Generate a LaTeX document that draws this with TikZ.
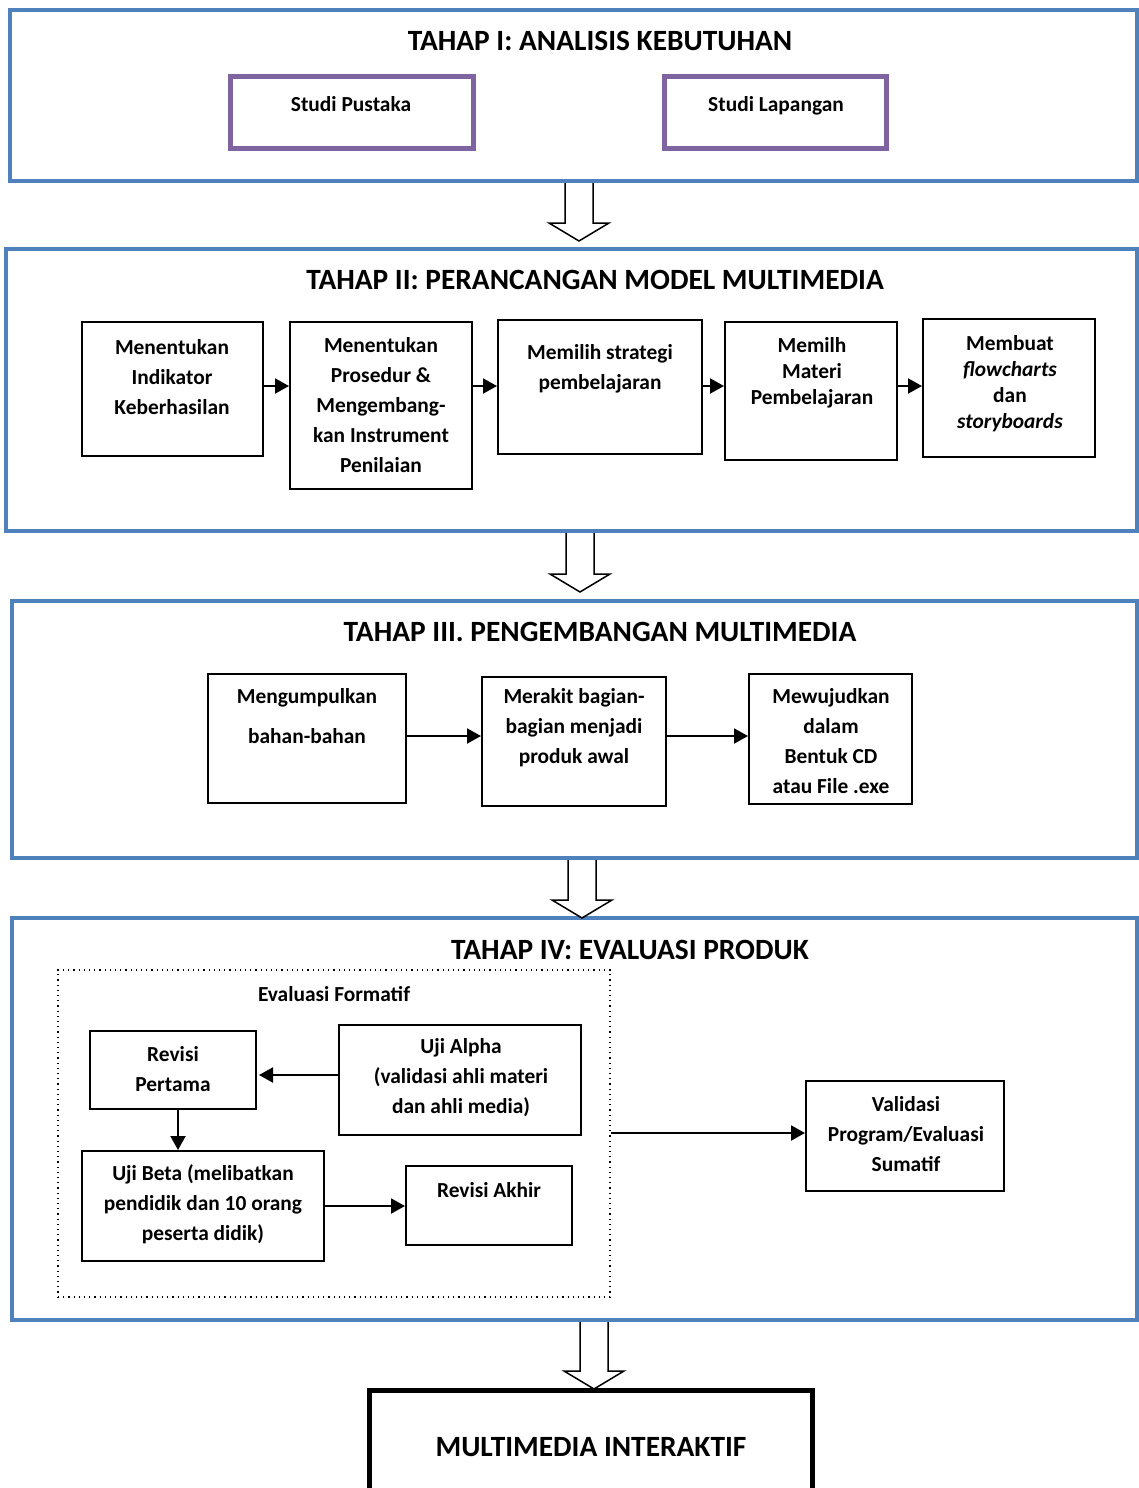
\documentclass[tikz,border=0pt]{standalone}
\usepackage{fontspec}
\setmainfont{Carlito}
\usetikzlibrary{arrows.meta,fit,positioning}
\definecolor{StageBlue}{HTML}{4F81BD}
\definecolor{BoxPurple}{HTML}{8064A2}
\newcommand{\bodyfont}{\fontsize{10.7}{15}\selectfont\bfseries}
\newcommand{\tightfont}{\fontsize{10.7}{13}\selectfont\bfseries}
\newcommand{\titlefont}{\fontsize{14.7}{18}\selectfont\bfseries}

\begin{document}
\begin{tikzpicture}[x=0.5pt,y=-0.5pt,line join=miter,
    stage/.style={draw=StageBlue,line width=2pt,inner sep=0pt},
    studi/.style={draw=BoxPurple,line width=2.5pt,inner sep=0pt},
    box/.style={draw,line width=1pt,inner sep=0pt},
    txt/.style={font=\bodyfont,align=center,inner sep=0pt},
    title/.style={font=\titlefont,inner sep=0pt},
    arr/.style={-{Triangle[length=7pt,width=7.5pt]},line width=1pt},
    hollow/.style={draw,fill=white,line width=0.75pt},
    bigarrow/.pic={\draw[hollow] (-14,0) -- (-14,#1-18) -- (-30,#1-18) -- (0,#1) -- (30,#1-18) -- (14,#1-18) -- (14,0);}]
    \useasboundingbox (0,0) rectangle (1139,1488);

    % tahap I
    \node[stage,fit={(10,10) (1137,181)}] (tahap1) {};
    \node[title] (judul1) at (600,41) {TAHAP I: ANALISIS KEBUTUHAN};
    \node[studi,fit={(230,76) (473,148)}] (pustaka) {};
    \node[txt] (pustaka-t) at (351,104) {Studi Pustaka};
    \node[studi,fit={(664,76) (886,148)}] (lapangan) {};
    \node[txt] (lapangan-t) at (776,106) {Studi Lapangan};

    % tahap II
    \node[stage,fit={(6,249) (1137,531)}] (tahap2) {};
    \node[title] (judul2) at (595,280) {TAHAP II: PERANCANGAN MODEL MULTIMEDIA};
    \node[box,fit={(82,322) (263,456)}] (indikator) {};
    \node[txt] (indikator-t) at (172,377) {Menentukan\\Indikator\\Keberhasilan};
    \node[box,fit={(290,322) (472,489)}] (prosedur) {};
    \node[txt] (prosedur-t) at (381,405) {Menentukan\\Prosedur \&\\Mengembang-\\kan Instrument\\Penilaian};
    \node[box,fit={(498,320) (702,454)}] (strategi) {};
    \node[txt] (strategi-t) at (600,369) {Memilih strategi\\pembelajaran};
    \node[box,fit={(725,322) (897,460)}] (materi) {};
    \node[txt,font=\tightfont] (materi-t) at (812,373) {Memilh\\Materi\\Pembelajaran};
    \node[box,fit={(923,319) (1095,457)}] (flowchart) {};
    \node[txt,font=\tightfont] (flowchart-t) at (1010,384) {Membuat\\\textit{flowcharts}\\dan\\\textit{storyboards}};
    \coordinate (baris2) at (0,386);
    \draw[arr] (indikator.east |- baris2) -- (prosedur.west |- baris2);
    \draw[arr] (prosedur.east |- baris2) -- (strategi.west |- baris2);
    \draw[arr] (strategi.east |- baris2) -- (materi.west |- baris2);
    \draw[arr] (materi.east |- baris2) -- (flowchart.west |- baris2);

    % tahap III
    \node[stage,fit={(12,601) (1137,858)}] (tahap3) {};
    \node[title] (judul3) at (600,632) {TAHAP III. PENGEMBANGAN MULTIMEDIA};
    \node[box,fit={(208,674) (406,803)}] (kumpul) {};
    \node[txt] (kumpul-t) at (307,716) {Mengumpulkan\\[5pt]bahan-bahan};
    \node[box,fit={(482,677) (666,806)}] (rakit) {};
    \node[txt] (rakit-t) at (574,728) {Merakit bagian-\\bagian menjadi\\produk awal};
    \node[box,fit={(749,674) (912,804)}] (wujud) {};
    \node[txt] (wujud-t) at (831,741) {Mewujudkan\\dalam\\Bentuk CD\\atau File .exe};
    \coordinate (baris3) at (0,736);
    \draw[arr] (kumpul.east |- baris3) -- (rakit.west |- baris3);
    \draw[arr] (rakit.east |- baris3) -- (wujud.west |- baris3);

    % tahap IV
    \node[stage,fit={(12,918) (1137,1320)}] (tahap4) {};
    \node[title] (judul4) at (630,950) {TAHAP IV: EVALUASI PRODUK};
    \node[draw,dotted,line width=0.6pt,inner sep=0pt,fit={(58,970) (610,1297)}] (formatif) {};
    \node[txt] (formatif-t) at (334,994) {Evaluasi Formatif};
    \node[box,fit={(90,1031) (256,1109)}] (revisi1) {};
    \node[txt] (revisi1-t) at (173,1069) {Revisi\\Pertama};
    \node[box,fit={(339,1025) (581,1135)}] (alpha) {};
    \node[txt] (alpha-t) at (461,1078) {Uji Alpha\\(validasi ahli materi\\dan ahli media)};
    \node[box,fit={(82,1151) (324,1261)}] (beta) {};
    \node[txt] (beta-t) at (203,1204) {Uji Beta (melibatkan\\pendidik dan 10 orang\\peserta didik)};
    \node[box,fit={(406,1166) (572,1245)}] (akhir) {};
    \node[txt] (akhir-t) at (489,1190) {Revisi Akhir};
    \node[box,fit={(806,1081) (1004,1191)}] (validasi) {};
    \node[txt] (validasi-t) at (906,1134) {Validasi\\Program/Evaluasi\\Sumatif};
    \coordinate (alpha-ke-revisi) at (0,1075);
    \draw[arr] (alpha.west |- alpha-ke-revisi) -- ([xshift=1pt]revisi1.east |- alpha-ke-revisi);
    \draw[arr] ([xshift=2.5pt]revisi1.south) -- ([xshift=2.5pt]revisi1.south |- beta.north);
    \draw[arr] (beta.east) -- (beta.east -| akhir.west);
    \coordinate (ke-validasi) at (0,1133);
    \draw[arr] (formatif.east |- ke-validasi) -- (validasi.west |- ke-validasi);

    % hasil akhir
    \node[draw,line width=2.5pt,inner sep=0pt,fit={(369,1390) (812,1510)}] (hasil) {};
    \node[title] (hasil-t) at (591,1447) {MULTIMEDIA INTERAKTIF};

    % panah antar tahap
    \pic at (579,183) {bigarrow=58};
    \pic at (580,533) {bigarrow=59};
    \pic at (582,860) {bigarrow=58};
    \pic at (594,1322) {bigarrow=67};
\end{tikzpicture}
\end{document}
